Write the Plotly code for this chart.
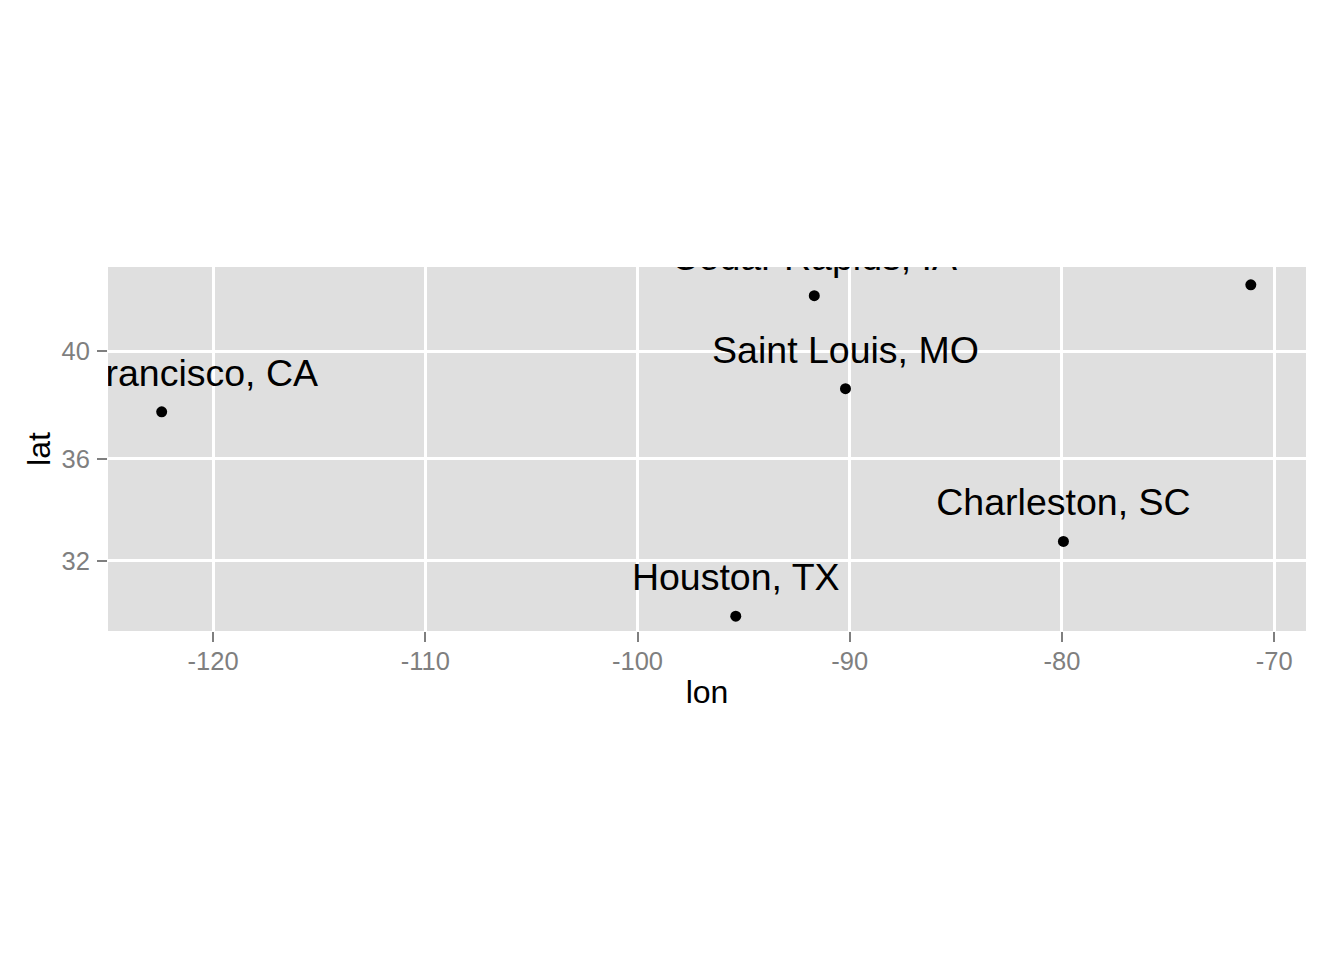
import numpy as np
import plotly.graph_objects as go

cities = ["San Francisco, CA", "Cedar Rapids, IA", "Saint Louis, MO",
          "Charleston, SC", "Houston, TX", "Boston, MA"]
lon = [-122.42, -91.67, -90.20, -79.93, -95.37, -71.10]
lat = [37.77, 41.98, 38.63, 32.78, 29.76, 42.36]

x_ticks = [-120, -110, -100, -90, -80, -70]
y_ticks = [32, 36, 40]


def merc(v):
    v = np.radians(np.asarray(v, dtype=float))
    return np.log(np.tan(np.pi / 4 + v / 2))


ym = merc(lat)
font = "Liberation Sans, Arial, sans-serif"

fig = go.Figure()
fig.add_trace(go.Scatter(
    x=lon, y=ym, mode="markers",
    marker=dict(size=11, color="black"),
    cliponaxis=True, hoverinfo="skip", showlegend=False))
fig.add_trace(go.Scatter(
    x=lon, y=ym, mode="markers+text", text=cities,
    textposition="top center",
    textfont=dict(family=font, size=37.5, color="black"),
    marker=dict(size=25, color="rgba(0,0,0,0)"),
    cliponaxis=True, hoverinfo="skip", showlegend=False))

axis_common = dict(
    showgrid=True, gridcolor="white", gridwidth=2.5,
    zeroline=False, showline=False,
    ticks="outside", ticklen=10, tickwidth=2, tickcolor="#7f7f7f",
    tickfont=dict(family=font, size=25.5, color="#7f7f7f"),
)

fig.update_xaxes(
    range=[-124.95, -68.50], tickvals=x_ticks,
    ticktext=[str(t) for t in x_ticks], ticklabelstandoff=-3,
    title=dict(text="lon", font=dict(family=font, size=32, color="black"), standoff=7),
    **axis_common)
fig.update_yaxes(
    range=[0.5323, 0.8323], tickvals=list(merc(y_ticks)),
    ticktext=[str(t) for t in y_ticks], ticklabelstandoff=2,
    title=dict(text="lat", font=dict(family=font, size=32, color="black"), standoff=1),
    **axis_common)

fig.update_layout(
    width=1344, height=960,
    margin=dict(l=108, r=38, t=267, b=329, autoexpand=False),
    plot_bgcolor="#DFDFDF", paper_bgcolor="white",
    hovermode=False, showlegend=False,
)

fig.write_html("out.html", config={"displayModeBar": False})
